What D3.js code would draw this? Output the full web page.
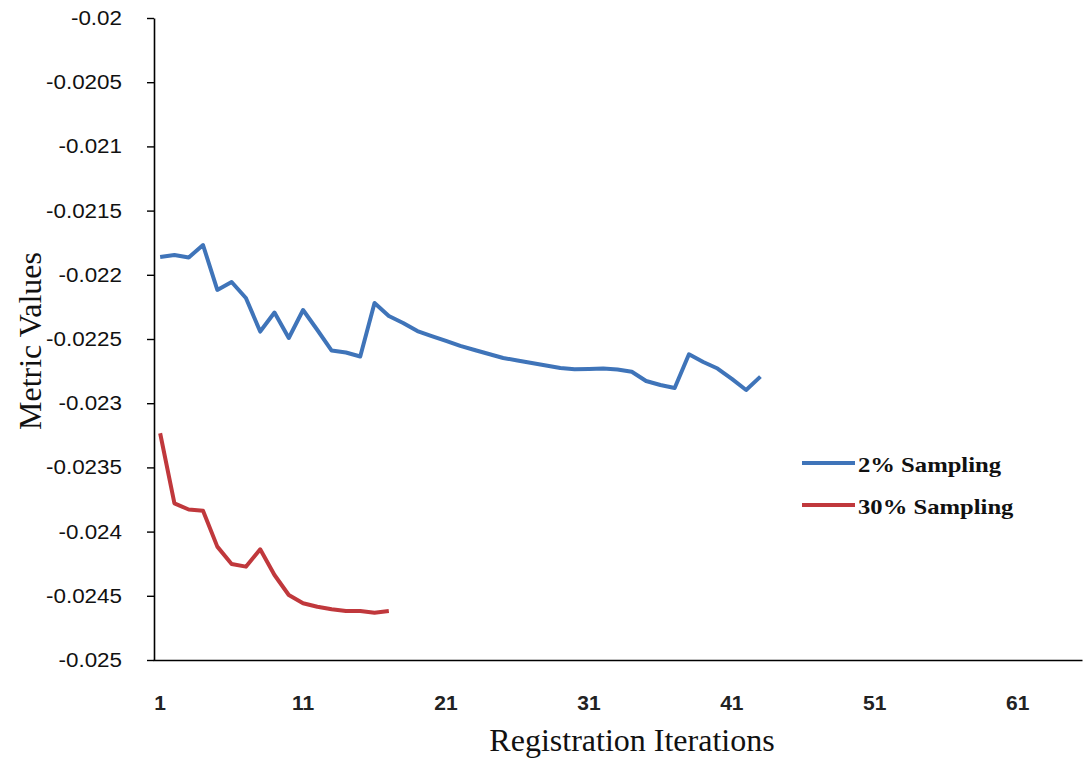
<!DOCTYPE html>
<html><head><meta charset="utf-8">
<script src="https://cdn.jsdelivr.net/npm/d3@7"></script>
<style>body{margin:0;background:#fff}svg{display:block}</style>
</head><body>
<svg id="c" width="1084" height="761"></svg>
<script>
const iterations = d3.range(1, 66);
const xTickLabels = [1, 11, 21, 31, 41, 51, 61];
const yTickValues = [-0.02, -0.0205, -0.021, -0.0215, -0.022, -0.0225, -0.023, -0.0235, -0.024, -0.0245, -0.025];
const seriesNames = ["2% Sampling", "30% Sampling"];
const sampling2 = [-0.021861, -0.021846, -0.021865, -0.021768, -0.022118, -0.022056, -0.022181, -0.022442, -0.022294, -0.022492,
  -0.022274, -0.02243, -0.02259, -0.022605, -0.022636, -0.02222, -0.022321, -0.022375, -0.022438, -0.022477,
  -0.022515, -0.022554, -0.022586, -0.022617, -0.022648, -0.022667, -0.022687, -0.022706, -0.022726, -0.022736,
  -0.022734, -0.02273, -0.022738, -0.022755, -0.022827, -0.022858, -0.022882, -0.022619, -0.022679, -0.02273,
  -0.022811, -0.022897, -0.022793];
const sampling30 = [-0.023234, -0.02378, -0.023828, -0.023837, -0.024117, -0.024252, -0.024273, -0.024138, -0.024338, -0.024494,
  -0.024558, -0.024585, -0.024605, -0.024618, -0.024618, -0.024632, -0.024618];
const colors = ["#3f74b9", "#c0383c"];

const svg = d3.select("#c");
const x = d3.scaleBand().domain(iterations).range([153, 1082]);
const xc = d => x(d) + x.bandwidth() / 2;
const y = d3.scaleLinear().domain([-0.025, -0.02]).range([660, 18]);

function stretch(sel, factor) {
  sel.each(function () {
    const w = this.getComputedTextLength();
    d3.select(this).attr("textLength", w * factor).attr("lengthAdjust", "spacingAndGlyphs");
  });
}

// Y axis
const yAxis = svg.append("g").attr("transform", "translate(154,0)")
  .call(d3.axisLeft(y).tickValues(yTickValues).tickSize(7).tickSizeOuter(0).tickPadding(25)
    .tickFormat(d => String(+d.toFixed(4))));
yAxis.attr("font-family", null).attr("font-size", null);
yAxis.select(".domain").attr("stroke", "#000").attr("stroke-width", 1.6);
yAxis.selectAll(".tick line").attr("stroke", "#000").attr("stroke-width", 1.4);
const yt = yAxis.selectAll(".tick text").style("font-family", "'Liberation Sans', sans-serif").style("font-size", "20px").attr("fill", "#111");
stretch(yt, 1.12);

// X axis
const xAxis = svg.append("g").attr("transform", "translate(0,660)")
  .call(d3.axisBottom(x).tickValues(xTickLabels).tickSize(0).tickSizeOuter(0).tickPadding(35));
xAxis.attr("font-family", null).attr("font-size", null);
xAxis.select(".domain").attr("stroke", "#000").attr("stroke-width", 1.6);
xAxis.selectAll(".tick text").style("font-family", "'Liberation Sans Narrow', 'Liberation Sans', sans-serif")
  .style("font-weight", "bold").style("font-size", "21px").attr("fill", "#222");

// Axis titles
svg.append("text").attr("x", 632).attr("y", 751).attr("text-anchor", "middle")
  .style("font-family", "'Liberation Serif', serif").style("font-size", "32px").attr("fill", "#111").text("Registration Iterations");
svg.append("text").attr("transform", "translate(41,341) rotate(-90)").attr("text-anchor", "middle")
  .style("font-family", "'Liberation Serif', serif").style("font-size", "32px").attr("fill", "#111").text("Metric Values");

// Lines
const line = d3.line().x((d, i) => xc(iterations[i])).y(d => y(d));
[sampling2, sampling30].forEach((s, k) => {
  svg.append("path").datum(s).attr("d", line).attr("fill", "none")
    .attr("stroke", colors[k]).attr("stroke-width", 4).attr("stroke-linejoin", "round").attr("stroke-linecap", "butt");
});

// Legend
seriesNames.forEach((n, k) => {
  const ly = 463 + k * 42;
  svg.append("line").attr("x1", 802).attr("x2", 855).attr("y1", ly).attr("y2", ly)
    .attr("stroke", colors[k]).attr("stroke-width", 4);
  const t = svg.append("text").attr("x", 858).attr("y", ly + 8.5).style("font-family", "'Liberation Serif', serif")
    .style("font-weight", "bold").style("font-size", "22px").attr("fill", "#111").text(n);
  stretch(t, 1.12);
});
</script>
</body></html>
